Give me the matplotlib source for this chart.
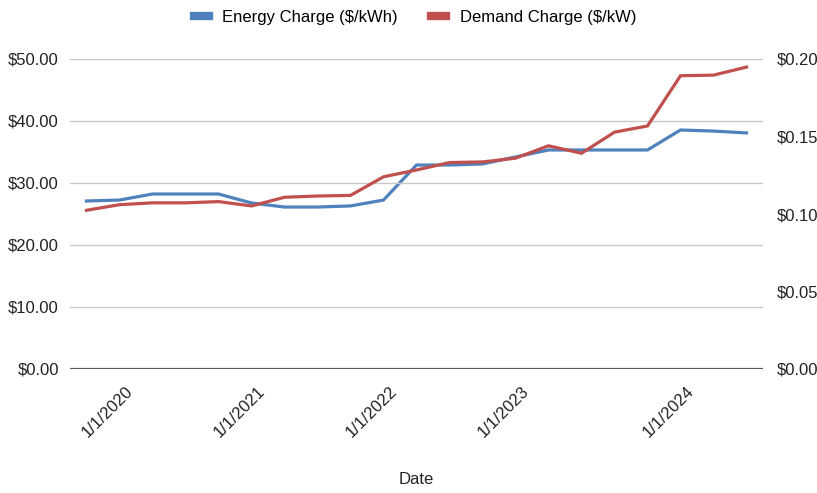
import numpy as np
import matplotlib.pyplot as plt
import matplotlib.transforms as mtransforms
from matplotlib.lines import Line2D

plt.rcParams['font.family'] = ['Liberation Sans', 'DejaVu Sans']

# one point per billing period, evenly spaced categories
dates = ['10/1/2019', '1/1/2020', '4/1/2020', '7/1/2020', '10/1/2020',
         '1/1/2021', '4/1/2021', '7/1/2021', '10/1/2021',
         '1/1/2022', '4/1/2022', '7/1/2022', '10/1/2022',
         '1/1/2023', '4/1/2023', '6/1/2023', '7/1/2023', '10/1/2023',
         '1/1/2024', '4/1/2024', '7/1/2024']
energy = [0.1084, 0.1090, 0.1129, 0.1129, 0.1129, 0.1071, 0.1045, 0.1045, 0.1052,
          0.1090, 0.1316, 0.1316, 0.1323, 0.1368, 0.1413, 0.1413, 0.1413, 0.1413,
          0.1542, 0.1535, 0.1523]
demand = [25.6, 26.5, 26.8, 26.8, 27.0, 26.3, 27.7, 27.9, 28.0,
          31.0, 32.1, 33.3, 33.4, 34.0, 36.0, 34.8, 38.2, 39.2,
          47.3, 47.4, 48.7]
shown = ['1/1/2020', '1/1/2021', '1/1/2022', '1/1/2023', '1/1/2024']

blue = '#4f81bd'
red = '#c0504d'

fig = plt.figure(figsize=(8.17, 4.93), dpi=100)
ax = fig.add_axes([70/817, 1 - 369/493, 693/817, 310/493])
ax2 = ax.twinx()

x = np.arange(len(dates))
ax2.plot(x, energy, color=blue, lw=2.3, solid_joinstyle='miter')
ax.plot(x, demand, color=red, lw=2.3, solid_joinstyle='miter')
ax.set_zorder(ax2.get_zorder() + 1)
ax.patch.set_visible(False)

ax.set_xlim(-0.5, len(dates) - 0.5)
ax.set_ylim(0, 50)
ax2.set_ylim(0, 0.20)
ax.set_yticks(np.arange(0, 51, 10))
ax.set_yticklabels([f'${v:.2f}' for v in np.arange(0, 51, 10)])
ax2.set_yticks(np.arange(0, 0.201, 0.05))
ax2.set_yticklabels([f'${v:.2f}' for v in np.arange(0, 0.201, 0.05)])

ax.grid(axis='y', color='#c8c8c8', lw=1)
for a in (ax, ax2):
    for s in a.spines.values():
        s.set_visible(False)
    a.tick_params(length=0, labelsize=12, colors='#222222')
ax.tick_params(axis='y', pad=8)
ax2.tick_params(axis='y', pad=10)
ax.axhline(0, color='#555555', lw=1.6, zorder=3)

tick_idx = [dates.index(d) for d in shown]
ax.set_xticks(tick_idx)
ax.set_xticklabels(shown, rotation=45, ha='right', va='top', rotation_mode='anchor')
off = mtransforms.ScaledTranslation(6/100, -10/100, fig.dpi_scale_trans)
for lab in ax.get_xticklabels():
    lab.set_transform(lab.get_transform() + off)
ax.set_xlabel('Date', fontsize=12, color='#222222', labelpad=23)

handles = [Line2D([], [], color=blue, lw=6), Line2D([], [], color=red, lw=6)]
fig.legend(handles, ['Energy Charge ($/kWh)', 'Demand Charge ($/kW)'],
           loc='upper center', bbox_to_anchor=(0.508, 1.01), ncol=2, frameon=False,
           fontsize=12, handlelength=0.9, columnspacing=2.0, handletextpad=0.8)

fig.savefig('out.png', dpi=100)
